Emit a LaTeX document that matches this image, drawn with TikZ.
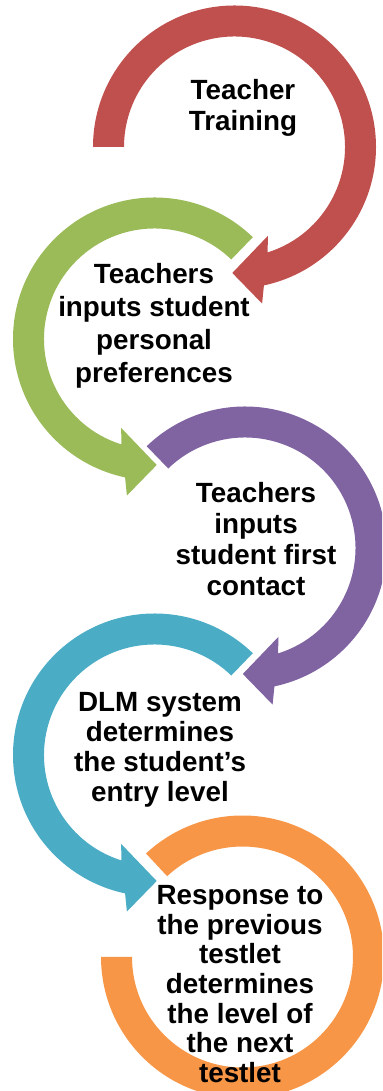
\documentclass[tikz,border=0pt]{standalone}
\usepackage{fontspec}
\setmainfont{Liberation Sans}
\usepackage{tikz}

\definecolor{trainred}{HTML}{C0504D}
\definecolor{prefgreen}{HTML}{9BBB59}
\definecolor{contactpurple}{HTML}{8064A2}
\definecolor{entryteal}{HTML}{4BACC6}
\definecolor{testorange}{HTML}{F79646}

% circular arrow around the origin, #1 colour, #2 start angle
\newcommand{\cyclearrow}[2]{%
  \fill[#1] (#2:141.5) arc[start angle=#2, end angle=-78, radius=141.5]
    -- (-80:159) -- (-91:126) -- (-69.5:95) -- (-72.5:110.5)
    arc[start angle=-72.5, end angle=#2, radius=110.5] -- cycle;}

\begin{document}
\begin{tikzpicture}[x=0.5pt, y=0.5pt, every node/.style={align=center, font=\fontsize{13.9}{15.5}\selectfont\bfseries}]
    \clip (0,0) rectangle (382,1091);
    \begin{scope}[shift={(234.5,944)}]
        \cyclearrow{trainred}{180}
    \end{scope}
    \begin{scope}[shift={(154.5,752)}, xscale=-1]
        \cyclearrow{prefgreen}{134}
    \end{scope}
    \begin{scope}[shift={(245,543)}]
        \cyclearrow{contactpurple}{134}
    \end{scope}
    \begin{scope}[shift={(154.5,336)}, xscale=-1]
        \cyclearrow{entryteal}{134}
    \end{scope}
    \fill[testorange] (242.5,134) ++(133:141.5) arc[start angle=133, end angle=-180, radius=141.5]
        -- ++(31,0) arc[start angle=-180, end angle=133, radius=110.5] -- cycle;
    \node (train) at (243,983) {Teacher\\Training};
    \node[font=\fontsize{13.9}{16.6}\selectfont\bfseries] (prefs) at (154,765) {Teachers\\inputs student\\personal\\preferences};
    \node (contact) at (256,552) {Teachers\\inputs\\student first\\contact};
    \node[font=\fontsize{13.9}{15.1}\selectfont\bfseries] (entry) at (160,341) {DLM system\\determines\\the student’s\\entry level};
    \node[font=\fontsize{13.9}{14.8}\selectfont\bfseries] (response) at (240,107) {Response to\\the previous\\testlet\\determines\\the level of\\the next\\testlet};
\end{tikzpicture}
\end{document}
